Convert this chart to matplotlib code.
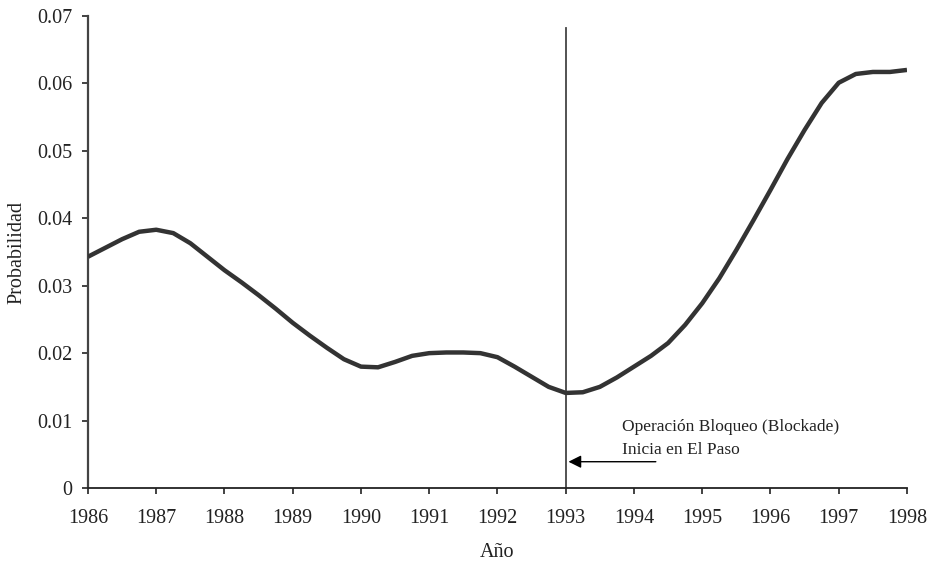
import matplotlib
matplotlib.use("Agg")
import matplotlib.pyplot as plt

plt.rcParams['font.family'] = ['Liberation Serif', 'DejaVu Serif']

# values (quarter-year steps)
years = [1986.00, 1986.25, 1986.50, 1986.75, 1987.00, 1987.25, 1987.50, 1987.75,
         1988.00, 1988.25, 1988.50, 1988.75, 1989.00, 1989.25, 1989.50, 1989.75,
         1990.00, 1990.25, 1990.50, 1990.75, 1991.00, 1991.25, 1991.50, 1991.75,
         1992.00, 1992.25, 1992.50, 1992.75, 1993.00, 1993.25, 1993.50, 1993.75,
         1994.00, 1994.25, 1994.50, 1994.75, 1995.00, 1995.25, 1995.50, 1995.75,
         1996.00, 1996.25, 1996.50, 1996.75, 1997.00, 1997.25, 1997.50, 1997.75,
         1998.00]
prob = [0.0343, 0.0356, 0.0369, 0.0380, 0.0383, 0.0378, 0.0363, 0.0343,
        0.0323, 0.0305, 0.0286, 0.0266, 0.0245, 0.0226, 0.0208, 0.0191,
        0.0180, 0.0179, 0.0187, 0.0196, 0.0200, 0.0201, 0.0201, 0.0200,
        0.0194, 0.0180, 0.0165, 0.0150, 0.0141, 0.0142, 0.0150, 0.0164,
        0.0180, 0.0196, 0.0215, 0.0242, 0.0274, 0.0311, 0.0353, 0.0397,
        0.0442, 0.0488, 0.0531, 0.0571, 0.0601, 0.0614, 0.0617, 0.0617,
        0.0620]

x_ticks = list(range(1986, 1999))
y_ticks = [0, 0.01, 0.02, 0.03, 0.04, 0.05, 0.06, 0.07]
y_labels = ['0', '0.01', '0.02', '0.03', '0.04', '0.05', '0.06', '0.07']

event_year = 1993
event_top = 0.0682
note = 'Operación Bloqueo (Blockade)\nInicia en El Paso'

fig = plt.figure(figsize=(9.29, 5.61), dpi=100)
ax = fig.add_axes([0.0947, 0.1301, 0.8816, 0.8414])

ax.plot(years, prob, color='#333333', lw=3.2, solid_joinstyle='round',
        solid_capstyle='butt', zorder=3)
ax.plot([event_year, event_year], [0, event_top], color='#444444', lw=1.3, zorder=2)

ax.annotate('', xy=(1993.04, 0.0039), xytext=(1994.32, 0.0039),
            arrowprops=dict(arrowstyle='-|>', color='black', lw=1.0,
                            mutation_scale=19, shrinkA=0, shrinkB=0))
ax.text(1993.82, 0.0073, note, fontsize=12.5, color='#222222', va='center',
        ha='left', linespacing=1.55)

ax.set_xlim(1986, 1998)
ax.set_ylim(0, 0.07)
ax.set_xticks(x_ticks)
ax.set_xticklabels([str(y) for y in x_ticks])
ax.set_yticks(y_ticks)
ax.set_yticklabels(y_labels)
ax.tick_params(direction='out', length=4, width=1.2, labelsize=14.5,
               colors='#222222')
ax.tick_params(axis='x', pad=11)
ax.tick_params(axis='y', pad=7)

for s in ['top', 'right']:
    ax.spines[s].set_visible(False)
ax.spines['left'].set_color('#444444')
ax.spines['left'].set_linewidth(1.6)
ax.spines['bottom'].set_color('#222222')
ax.spines['bottom'].set_linewidth(1.3)

ax.set_xlabel('Año', fontsize=14.5, color='#222222', labelpad=11)
ax.set_ylabel('Probabilidad', fontsize=14.5, color='#222222', labelpad=8)

fig.savefig('out.png', dpi=100)
